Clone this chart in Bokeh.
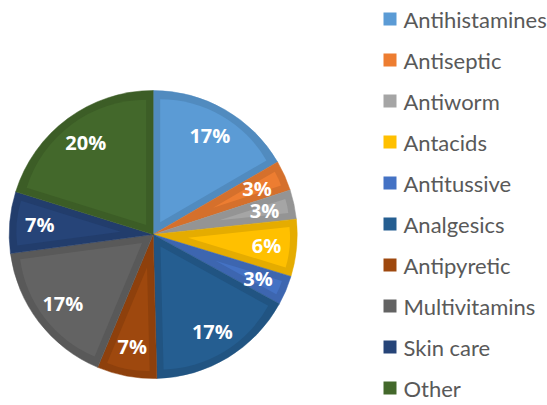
import numpy as np
from bokeh.plotting import figure
from bokeh.models import Range1d, ColumnDataSource
from bokeh.core.properties import value
from bokeh.embed import file_html
from bokeh.resources import INLINE

# ---- data ----
categories = ["Antihistamines", "Antiseptic", "Antiworm", "Antacids", "Antitussive",
              "Analgesics", "Antipyretic", "Multivitamins", "Skin care", "Other"]
shares = [16.6, 3.4, 3.3, 6.4, 3.3, 16.6, 6.7, 16.6, 6.9, 20.2]
colors = ["#5B9BD5", "#ED7D31", "#A5A5A5", "#FFC000", "#4472C4",
          "#255E91", "#9E480E", "#636363", "#264478", "#43682B"]

# ---- layout ----
W, H = 547, 405
CX, CY, R = 152.7, 171.0, 144.0
BEVEL = 7.0
LABEL_R = 0.79

def shade(hexc, f):
    h = hexc.lstrip("#")
    r, g, b = (int(h[i:i + 2], 16) for i in (0, 2, 4))
    return "#%02x%02x%02x" % (int(r * f), int(g * f), int(b * f))

vals = np.array(shares, dtype=float)
frac = vals / vals.sum()
cum_end = np.cumsum(frac)
cum_start = cum_end - frac
start = np.pi / 2 - cum_start * 2 * np.pi
end = np.pi / 2 - cum_end * 2 * np.pi
mid = (start + end) / 2
half = (start - end) / 2

labels = ["%d%%" % round(v) for v in frac * 100]

p = figure(width=W, height=H, x_range=Range1d(0, W), y_range=Range1d(0, H),
           output_backend="svg", toolbar_location=None, min_border=0)
p.axis.visible = False
p.grid.visible = False
p.outline_line_color = None
p.background_fill_color = "white"
p.border_fill_color = "white"

# outer (rim) wedges
outer = ColumnDataSource(dict(x=[CX] * len(vals), y=[CY] * len(vals), start=start, end=end,
                              color=[shade(c, 0.9) for c in colors]))
p.wedge(x="x", y="y", radius=R, start_angle="start", end_angle="end", direction="clock",
        fill_color="color", line_color="color", line_width=0.5, source=outer)

# inner (bevel face) wedges
ix, iy, ir, ist, ien, ic = [], [], [], [], [], []
for k in range(len(vals)):
    s = BEVEL / np.sin(half[k])
    rr = R - BEVEL - s
    if rr > 2:
        ix.append(CX + s * np.cos(mid[k]))
        iy.append(CY + s * np.sin(mid[k]))
        ir.append(rr)
        ist.append(start[k])
        ien.append(end[k])
        ic.append(colors[k])
inner = ColumnDataSource(dict(x=ix, y=iy, r=ir, start=ist, end=ien, color=ic))
p.wedge(x="x", y="y", radius="r", start_angle="start", end_angle="end", direction="clock",
        fill_color="color", line_color=None, source=inner)

# percent labels
lab = ColumnDataSource(dict(x=CX + LABEL_R * R * np.cos(mid), y=CY + LABEL_R * R * np.sin(mid),
                            text=labels))
p.text(x="x", y="y", text="text", source=lab, text_color="white",
       text_font=value("Open Sans"), text_font_style="bold", text_font_size="20px",
       text_align="center", text_baseline="middle")

# legend
LX, LTX, LY0, LDY, LS = 389.5, 403.0, 386.5, 41.0, 13
ly = [LY0 - LDY * i for i in range(len(categories))]
leg = ColumnDataSource(dict(x=[LX] * len(categories), tx=[LTX] * len(categories), y=ly,
                            color=colors, text=categories))
p.rect(x="x", y="y", width=LS, height=LS, fill_color="color", line_color=None, source=leg)
p.text(x="tx", y="y", text="text", source=leg, text_color="#595959",
       text_font=value("Lato"), text_font_size="22px",
       text_align="left", text_baseline="middle")

open("out.html", "w").write(file_html(p, INLINE))
